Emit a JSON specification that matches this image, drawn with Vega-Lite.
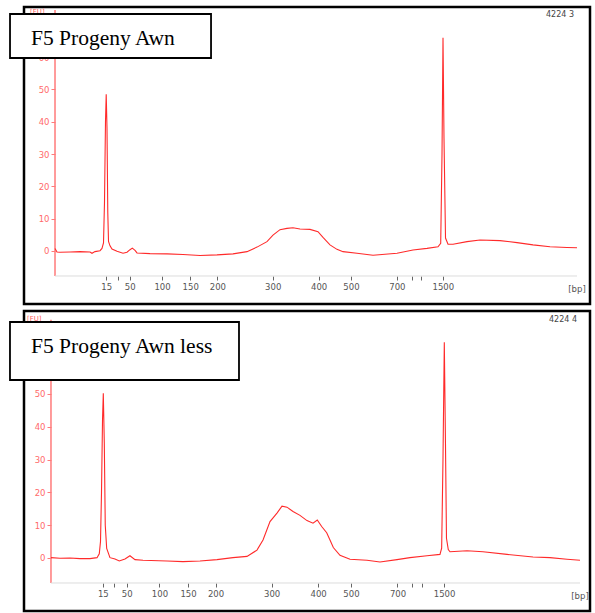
{
  "$schema": "https://vega.github.io/schema/vega-lite/v6.json",
  "background": "white",
  "padding": {"left": 7, "top": 5, "right": 0, "bottom": 0},
  "spacing": 7,
  "bounds": "flush",
  "config": {"view": {"stroke": "black", "strokeWidth": 2.5}},
  "datasets": {
    "awn": [
      {"t":0,"fu":0.8},{"t":0.38,"fu":-0.3},{"t":0.96,"fu":-0.4},{"t":2.87,"fu":-0.3},{"t":4.79,"fu":-0.2},{"t":6.7,"fu":-0.3},{"t":7.09,"fu":-0.7},{"t":7.66,"fu":-0.2},{"t":8.62,"fu":0.1},{"t":9.0,"fu":0.8},{"t":9.29,"fu":2.5},{"t":9.48,"fu":15},{"t":9.67,"fu":40},{"t":9.81,"fu":48.5},{"t":9.96,"fu":38},{"t":10.11,"fu":12},{"t":10.25,"fu":3},{"t":10.54,"fu":1.6},{"t":10.92,"fu":0.6},{"t":11.88,"fu":-0.1},{"t":13.03,"fu":-0.7},{"t":13.79,"fu":-0.4},{"t":14.37,"fu":0.4},{"t":14.81,"fu":0.9},{"t":15.33,"fu":0.2},{"t":15.71,"fu":-0.6},{"t":18.2,"fu":-0.8},{"t":21.46,"fu":-0.9},{"t":24.52,"fu":-1.1},{"t":27.78,"fu":-1.4},{"t":31.03,"fu":-1.2},{"t":34.1,"fu":-0.9},{"t":36.78,"fu":-0.2},{"t":38.7,"fu":1.2},{"t":40.61,"fu":2.9},{"t":41.76,"fu":4.9},{"t":43.1,"fu":6.6},{"t":44.44,"fu":7.0},{"t":45.59,"fu":7.2},{"t":46.93,"fu":6.8},{"t":48.85,"fu":6.7},{"t":50.38,"fu":6.0},{"t":51.34,"fu":4.2},{"t":52.68,"fu":1.9},{"t":54.02,"fu":0.5},{"t":55.17,"fu":-0.2},{"t":57.85,"fu":-0.7},{"t":60.92,"fu":-1.3},{"t":65.52,"fu":-0.7},{"t":68.58,"fu":0.3},{"t":71.26,"fu":0.8},{"t":73.37,"fu":1.3},{"t":73.89,"fu":2.4},{"t":74.14,"fu":30},{"t":74.33,"fu":66},{"t":74.52,"fu":35},{"t":74.81,"fu":4},{"t":75.29,"fu":2.1},{"t":76.25,"fu":2.1},{"t":78.93,"fu":2.9},{"t":81.42,"fu":3.4},{"t":85.25,"fu":3.2},{"t":88.51,"fu":2.6},{"t":91.57,"fu":1.9},{"t":94.83,"fu":1.3},{"t":98.08,"fu":1.1},{"t":100,"fu":1.0}
    ],
    "awnless": [
      {"t":0,"fu":0.1},{"t":1.7,"fu":-0.1},{"t":3.59,"fu":0.0},{"t":5.48,"fu":-0.2},{"t":7.37,"fu":-0.2},{"t":8.7,"fu":0.1},{"t":9.13,"fu":1.3},{"t":9.36,"fu":5},{"t":9.55,"fu":20},{"t":9.74,"fu":42},{"t":9.89,"fu":50.2},{"t":10.08,"fu":35},{"t":10.26,"fu":10},{"t":10.53,"fu":2.9},{"t":11.15,"fu":0.1},{"t":12.1,"fu":-0.3},{"t":12.91,"fu":-0.9},{"t":13.99,"fu":-0.3},{"t":14.93,"fu":0.7},{"t":15.88,"fu":-0.5},{"t":17.39,"fu":-0.7},{"t":21.93,"fu":-0.9},{"t":24.95,"fu":-1.1},{"t":28.17,"fu":-0.9},{"t":31.38,"fu":-0.5},{"t":34.4,"fu":0.1},{"t":37.05,"fu":0.5},{"t":38.94,"fu":2.4},{"t":40.08,"fu":5.5},{"t":41.4,"fu":11.1},{"t":42.72,"fu":13.7},{"t":43.67,"fu":15.8},{"t":44.61,"fu":15.5},{"t":45.75,"fu":14.2},{"t":47.07,"fu":13.0},{"t":48.39,"fu":11.4},{"t":49.53,"fu":10.6},{"t":50.34,"fu":11.6},{"t":51.17,"fu":9.6},{"t":52.12,"fu":7.7},{"t":52.74,"fu":5.5},{"t":53.37,"fu":3.2},{"t":54.63,"fu":0.8},{"t":56.52,"fu":-0.4},{"t":59.74,"fu":-0.7},{"t":62.19,"fu":-1.2},{"t":65.41,"fu":-0.5},{"t":67.86,"fu":0.1},{"t":71.08,"fu":0.7},{"t":73.53,"fu":1.1},{"t":73.85,"fu":3},{"t":74.1,"fu":30},{"t":74.35,"fu":65.8},{"t":74.57,"fu":35},{"t":74.76,"fu":6},{"t":75.1,"fu":2.6},{"t":75.43,"fu":1.9},{"t":78.64,"fu":2.2},{"t":81.66,"fu":1.9},{"t":86.2,"fu":1.1},{"t":91.12,"fu":0.3},{"t":94.33,"fu":0.1},{"t":97.54,"fu":-0.4},{"t":100,"fu":-0.7}
    ],
    "ann_top": [
      {"kind":"yaxis","t":0,"fu":-7.74,"fu2":74.6},
      {"kind":"xaxis","t":0,"t2":100,"fu":-7.74},
      {"kind":"fu","t":-4.79,"fu":74,"label":"[FU]"},
      {"kind":"box","t":-8.62,"t2":29.89,"fu":73.37,"fu2":59.75},
      {"kind":"title","t":-4.6,"fu":63.8,"label":"F5 Progeny Awn"},
      {"kind":"id","t":99.43,"fu":73.1,"label":"4224 3"},
      {"kind":"bp","t":100,"fu":-11.76,"label":"[bp]"}
    ],
    "ann_bottom": [
      {"kind":"yaxis","t":0,"fu":-7.62,"fu2":72.6},
      {"kind":"xaxis","t":0,"t2":100,"fu":-7.62},
      {"kind":"fu","t":-4.54,"fu":72.9,"label":"[FU]"},
      {"kind":"box","t":-7.75,"t2":35.54,"fu":71.95,"fu2":54.27},
      {"kind":"title","t":-3.78,"fu":62.5,"label":"F5 Progeny Awn less"},
      {"kind":"id","t":99.43,"fu":72.6,"label":"4224 4"},
      {"kind":"bp","t":100,"fu":-11.6,"label":"[bp]"}
    ]
  },
  "vconcat": [
    {
      "width": 566,
      "height": 297,
      "encoding": {
        "x": {"field": "t", "type": "quantitative",
          "scale": {"domain": [-5.94, 102.49], "nice": false, "zero": false},
          "axis": {"title": null, "offset": -28, "domain": false, "grid": false, "tickSize": 4, "tickColor": "#666", "labelColor": "#555", "labelFont": "DejaVu Sans", "labelFontSize": 8.5, "labelPadding": 2, "labelFlush": false, "labelOverlap": false,
            "values": [9.8, 12.0, 14.3, 20.5, 25.9, 31.1, 41.7, 50.5, 56.7, 65.5, 68.3, 70.1, 74.3],
            "labelExpr": "datum.value == 9.8 ? '15' : datum.value == 14.3 ? '50' : datum.value == 20.5 ? '100' : datum.value == 25.9 ? '150' : datum.value == 31.1 ? '200' : datum.value == 41.7 ? '300' : datum.value == 50.5 ? '400' : datum.value == 56.7 ? '500' : datum.value == 65.5 ? '700' : datum.value == 74.3 ? '1500' : ''"}},
        "y": {"field": "fu", "type": "quantitative",
          "scale": {"domain": [-16.41, 75.54], "nice": false, "zero": false},
          "axis": {"title": null, "offset": -31, "domain": false, "grid": false, "tickSize": 4, "tickColor": "#ff7a7a", "labelColor": "#ff6a6a", "labelFont": "DejaVu Sans", "labelFontSize": 8.5, "labelPadding": 2, "labelOverlap": false,
            "values": [0, 10, 20, 30, 40, 50, 60]}}
      },
      "layer": [
        {"data": {"name": "ann_top"}, "transform": [{"filter": "datum.kind == 'yaxis'"}], "mark": {"type": "rule", "color": "#ff7a7a", "strokeWidth": 1.5}, "encoding": {"y2": {"field": "fu2"}}},
        {"data": {"name": "ann_top"}, "transform": [{"filter": "datum.kind == 'xaxis'"}], "mark": {"type": "rule", "color": "#dddddd", "strokeWidth": 1}, "encoding": {"x2": {"field": "t2"}}},
        {"data": {"name": "awn"}, "mark": {"type": "line", "color": "#ff2a2a", "strokeWidth": 1.1}},
        {"data": {"name": "ann_top"}, "transform": [{"filter": "datum.kind == 'fu'"}], "mark": {"type": "text", "align": "left", "baseline": "middle", "font": "DejaVu Sans", "fontSize": 7, "color": "#ff6060"}, "encoding": {"text": {"field": "label"}}},
        {"data": {"name": "ann_top"}, "transform": [{"filter": "datum.kind == 'box'"}], "mark": {"type": "rect", "fill": "white", "stroke": "black", "strokeWidth": 1.8}, "encoding": {"x2": {"field": "t2"}, "y2": {"field": "fu2"}}},
        {"data": {"name": "ann_top"}, "transform": [{"filter": "datum.kind == 'title'"}], "mark": {"type": "text", "align": "left", "baseline": "alphabetic", "font": "Times New Roman", "fontSize": 21.5, "color": "black"}, "encoding": {"text": {"field": "label"}}},
        {"data": {"name": "ann_top"}, "transform": [{"filter": "datum.kind == 'id'"}], "mark": {"type": "text", "align": "right", "baseline": "middle", "font": "DejaVu Sans", "fontSize": 8, "color": "#444"}, "encoding": {"text": {"field": "label"}}},
        {"data": {"name": "ann_top"}, "transform": [{"filter": "datum.kind == 'bp'"}], "mark": {"type": "text", "align": "center", "baseline": "middle", "font": "DejaVu Sans", "fontSize": 8.5, "color": "#555"}, "encoding": {"text": {"field": "label"}}}
      ]
    },
    {
      "width": 566,
      "height": 300,
      "encoding": {
        "x": {"field": "t", "type": "quantitative",
          "scale": {"domain": [-5.10, 101.89], "nice": false, "zero": false},
          "axis": {"title": null, "offset": -28, "domain": false, "grid": false, "tickSize": 4, "tickColor": "#666", "labelColor": "#555", "labelFont": "DejaVu Sans", "labelFontSize": 8.5, "labelPadding": 2, "labelFlush": false, "labelOverlap": false,
            "values": [9.8, 12.0, 14.3, 20.5, 25.9, 31.1, 41.7, 50.5, 56.7, 65.5, 68.3, 70.1, 74.3],
            "labelExpr": "datum.value == 9.8 ? '15' : datum.value == 14.3 ? '50' : datum.value == 20.5 ? '100' : datum.value == 25.9 ? '150' : datum.value == 31.1 ? '200' : datum.value == 41.7 ? '300' : datum.value == 50.5 ? '400' : datum.value == 56.7 ? '500' : datum.value == 65.5 ? '700' : datum.value == 74.3 ? '1500' : ''"}},
        "y": {"field": "fu", "type": "quantitative",
          "scale": {"domain": [-16.16, 75.3], "nice": false, "zero": false},
          "axis": {"title": null, "offset": -27, "domain": false, "grid": false, "tickSize": 4, "tickColor": "#ff7a7a", "labelColor": "#ff6a6a", "labelFont": "DejaVu Sans", "labelFontSize": 8.5, "labelPadding": 2, "labelOverlap": false,
            "values": [0, 10, 20, 30, 40, 50, 60]}}
      },
      "layer": [
        {"data": {"name": "ann_bottom"}, "transform": [{"filter": "datum.kind == 'yaxis'"}], "mark": {"type": "rule", "color": "#ff7a7a", "strokeWidth": 1.5}, "encoding": {"y2": {"field": "fu2"}}},
        {"data": {"name": "ann_bottom"}, "transform": [{"filter": "datum.kind == 'xaxis'"}], "mark": {"type": "rule", "color": "#dddddd", "strokeWidth": 1}, "encoding": {"x2": {"field": "t2"}}},
        {"data": {"name": "awnless"}, "mark": {"type": "line", "color": "#ff2a2a", "strokeWidth": 1.1}},
        {"data": {"name": "ann_bottom"}, "transform": [{"filter": "datum.kind == 'fu'"}], "mark": {"type": "text", "align": "left", "baseline": "middle", "font": "DejaVu Sans", "fontSize": 7, "color": "#ff6060"}, "encoding": {"text": {"field": "label"}}},
        {"data": {"name": "ann_bottom"}, "transform": [{"filter": "datum.kind == 'box'"}], "mark": {"type": "rect", "fill": "white", "stroke": "black", "strokeWidth": 1.8}, "encoding": {"x2": {"field": "t2"}, "y2": {"field": "fu2"}}},
        {"data": {"name": "ann_bottom"}, "transform": [{"filter": "datum.kind == 'title'"}], "mark": {"type": "text", "align": "left", "baseline": "alphabetic", "font": "Times New Roman", "fontSize": 21.5, "color": "black"}, "encoding": {"text": {"field": "label"}}},
        {"data": {"name": "ann_bottom"}, "transform": [{"filter": "datum.kind == 'id'"}], "mark": {"type": "text", "align": "right", "baseline": "middle", "font": "DejaVu Sans", "fontSize": 8, "color": "#444"}, "encoding": {"text": {"field": "label"}}},
        {"data": {"name": "ann_bottom"}, "transform": [{"filter": "datum.kind == 'bp'"}], "mark": {"type": "text", "align": "center", "baseline": "middle", "font": "DejaVu Sans", "fontSize": 8.5, "color": "#555"}, "encoding": {"text": {"field": "label"}}}
      ]
    }
  ]
}
